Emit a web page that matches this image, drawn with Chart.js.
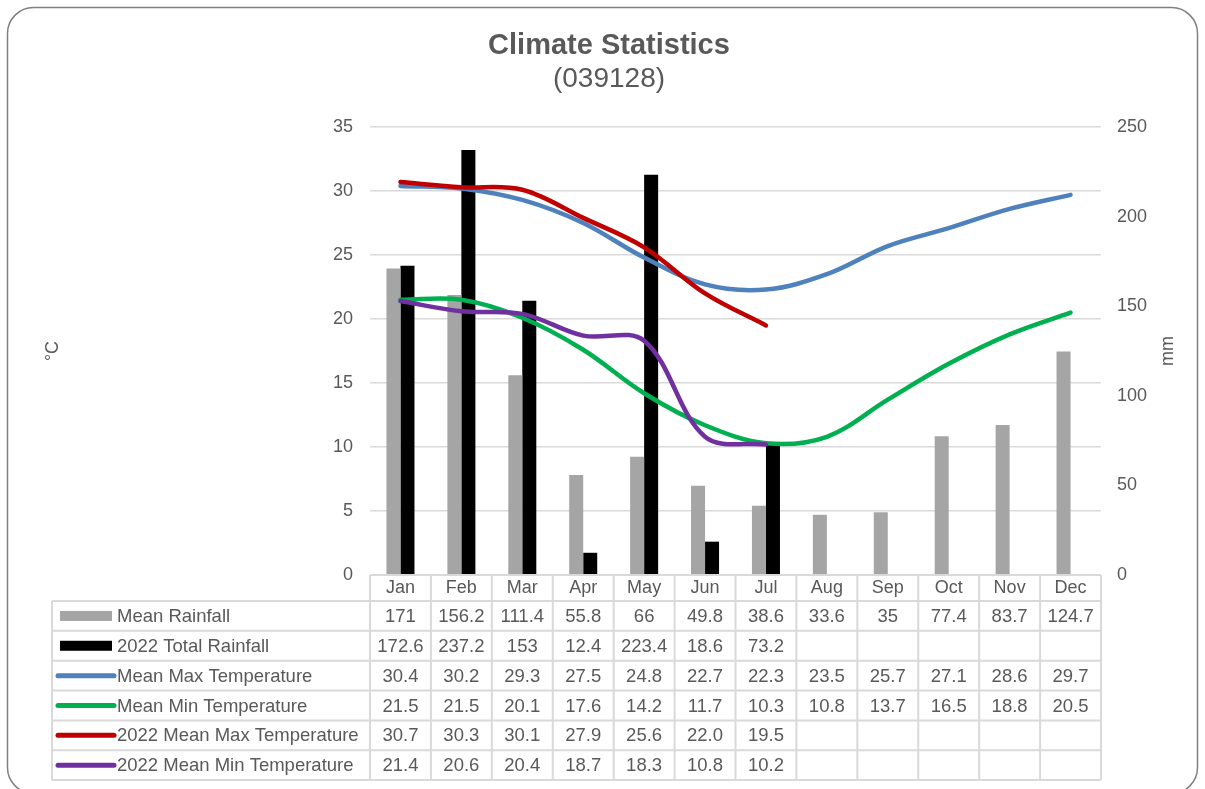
<!DOCTYPE html>
<html>
<head>
<meta charset="utf-8">
<title>Climate Statistics (039128)</title>
<script src="https://cdn.jsdelivr.net/npm/chart.js@4.4.1/dist/chart.umd.min.js"></script>
<style>
  html, body { margin: 0; padding: 0; background: #ffffff; }
  canvas { display: block; }
</style>
</head>
<body>
<canvas id="climate" width="1205" height="789"></canvas>
<script>
// Monthly climate statistics for station 039128
const months = ['Jan', 'Feb', 'Mar', 'Apr', 'May', 'Jun', 'Jul', 'Aug', 'Sep', 'Oct', 'Nov', 'Dec'];

const meanRainfall = [171, 156.2, 111.4, 55.8, 66, 49.8, 38.6, 33.6, 35, 77.4, 83.7, 124.7];
const totalRainfall2022 = [172.6, 237.2, 153, 12.4, 223.4, 18.6, 73.2, null, null, null, null, null];
const meanMaxTemp = [30.4, 30.2, 29.3, 27.5, 24.8, 22.7, 22.3, 23.5, 25.7, 27.1, 28.6, 29.7];
const meanMinTemp = [21.5, 21.5, 20.1, 17.6, 14.2, 11.7, 10.3, 10.8, 13.7, 16.5, 18.8, 20.5];
const meanMaxTemp2022 = [30.7, 30.3, 30.1, 27.9, 25.6, 22.0, 19.5, null, null, null, null, null];
const meanMinTemp2022 = [21.4, 20.6, 20.4, 18.7, 18.3, 10.8, 10.2, null, null, null, null, null];

// Axis ranges (°C on the left, mm on the right)
const tempAxis = { min: 0, max: 35, step: 5 };
const rainAxis = { min: 0, max: 250, step: 50 };

const TEXT = '#595959';
const GRID = '#d9d9d9';
const FONT = "'Liberation Sans', Arial, sans-serif";

Chart.defaults.font.family = FONT;
Chart.defaults.color = TEXT;

const asIs = v => String(v);
const oneDecimal = v => v.toFixed(1);

// Card background and rounded frame
const framePlugin = {
  id: 'frame',
  beforeDraw(chart) {
    const ctx = chart.ctx;
    ctx.save();
    ctx.fillStyle = '#ffffff';
    ctx.fillRect(0, 0, chart.width, chart.height);
    ctx.restore();
  },
  afterDraw(chart) {
    const ctx = chart.ctx;
    ctx.save();
    ctx.strokeStyle = '#808080';
    ctx.lineWidth = 1.5;
    ctx.beginPath();
    ctx.roundRect(7.5, 7.5, 1190, 786, 26);
    ctx.stroke();
    ctx.restore();
  }
};

// Rotated axis titles, both reading bottom-to-top
const axisTitlePlugin = {
  id: 'axisTitles',
  afterDraw(chart) {
    const ctx = chart.ctx;
    const a = chart.chartArea;
    const midY = (a.top + a.bottom) / 2;
    ctx.save();
    ctx.fillStyle = TEXT;
    ctx.font = '18px ' + FONT;
    ctx.textAlign = 'center';
    ctx.textBaseline = 'alphabetic';
    [['°C', 58], ['mm', 1173]].forEach(([txt, bx]) => {
      ctx.save();
      ctx.translate(bx, midY);
      ctx.rotate(-Math.PI / 2);
      ctx.fillText(txt, 0, 0);
      ctx.restore();
    });
    ctx.restore();
  }
};

// Data table under the plot: legend keys, series names and monthly values
const dataTablePlugin = {
  id: 'dataTable',
  afterDraw(chart) {
    const ctx = chart.ctx;
    const a = chart.chartArea;
    const xs = chart.scales.x;
    const n = months.length;
    const colW = (a.right - a.left) / n;
    const top = a.bottom;
    const headH = 26;
    const rowH = 29.85;
    const tableLeft = 52;
    const sets = chart.data.datasets;
    const bottom = top + headH + rowH * sets.length;

    ctx.save();
    ctx.strokeStyle = GRID;
    ctx.lineWidth = 2;
    ctx.beginPath();
    // header row top edge
    ctx.moveTo(a.left, top);
    ctx.lineTo(a.right, top);
    // row edges
    for (let r = 0; r <= sets.length; r++) {
      const y = top + headH + r * rowH;
      ctx.moveTo(tableLeft, y);
      ctx.lineTo(a.right, y);
    }
    // column edges
    for (let c = 0; c <= n; c++) {
      const x = a.left + c * colW;
      ctx.moveTo(x, top);
      ctx.lineTo(x, bottom);
    }
    ctx.moveTo(tableLeft, top + headH);
    ctx.lineTo(tableLeft, bottom);
    ctx.stroke();

    ctx.font = '18.5px ' + FONT;
    ctx.fillStyle = TEXT;
    ctx.textBaseline = 'middle';

    sets.forEach((ds, r) => {
      const cy = top + headH + r * rowH + rowH / 2;
      // legend key
      if (ds.type === 'bar') {
        ctx.fillStyle = ds.backgroundColor;
        ctx.fillRect(60, cy - 5, 52, 10);
      } else {
        ctx.strokeStyle = ds.borderColor;
        ctx.lineWidth = 5;
        ctx.lineCap = 'round';
        ctx.beginPath();
        ctx.moveTo(58, cy);
        ctx.lineTo(114, cy);
        ctx.stroke();
      }
      // series name
      ctx.fillStyle = TEXT;
      ctx.textAlign = 'left';
      ctx.fillText(ds.label, 117, cy + 1);
      // values
      ctx.textAlign = 'center';
      const fmt = ds.type === 'bar' ? asIs : oneDecimal;
      ds.data.forEach((v, i) => {
        if (v === null || v === undefined) return;
        ctx.fillText(fmt(v), xs.getPixelForValue(i), cy + 1);
      });
    });
    ctx.restore();
  }
};

new Chart(document.getElementById('climate'), {
  data: {
    labels: months,
    datasets: [
      {
        type: 'bar', label: 'Mean Rainfall', data: meanRainfall, yAxisID: 'y1',
        backgroundColor: '#a5a5a5', categoryPercentage: 0.46, barPercentage: 1, order: 5
      },
      {
        type: 'bar', label: '2022 Total Rainfall', data: totalRainfall2022, yAxisID: 'y1',
        backgroundColor: '#000000', categoryPercentage: 0.46, barPercentage: 1, order: 6
      },
      {
        type: 'line', label: 'Mean Max Temperature', data: meanMaxTemp, yAxisID: 'y',
        borderColor: '#4f81bd', backgroundColor: '#4f81bd', order: 4
      },
      {
        type: 'line', label: 'Mean Min Temperature', data: meanMinTemp, yAxisID: 'y',
        borderColor: '#00b050', backgroundColor: '#00b050', order: 3
      },
      {
        type: 'line', label: '2022 Mean Max Temperature', data: meanMaxTemp2022, yAxisID: 'y',
        borderColor: '#c00000', backgroundColor: '#c00000', order: 2
      },
      {
        type: 'line', label: '2022 Mean Min Temperature', data: meanMinTemp2022, yAxisID: 'y',
        borderColor: '#7030a0', backgroundColor: '#7030a0', order: 1
      }
    ]
  },
  options: {
    responsive: false,
    animation: false,
    events: [],
    layout: { padding: { left: 13, right: 0, top: 0, bottom: 0 } },
    elements: {
      line: { borderWidth: 4.5, tension: 0.35, fill: false, borderCapStyle: 'round', borderJoinStyle: 'round' },
      point: { radius: 0, hoverRadius: 0 }
    },
    plugins: {
      legend: { display: false },
      tooltip: { enabled: false },
      title: {
        display: true, text: 'Climate Statistics', color: TEXT,
        font: { size: 29, weight: 'bold', lineHeight: 1 },
        padding: { top: 31.5, bottom: 0 }
      },
      subtitle: {
        display: true, text: '(039128)', color: TEXT,
        font: { size: 28, weight: 'normal', lineHeight: 1 },
        padding: { top: 5, bottom: 33.5 }
      }
    },
    scales: {
      x: {
        type: 'category',
        offset: true,
        grid: { display: false, drawTicks: false },
        border: { display: false },
        ticks: { color: TEXT, font: { size: 18 }, padding: 2, maxRotation: 0, autoSkip: false },
        afterFit(scale) { scale.height = 214; }
      },
      y: {
        position: 'left',
        min: tempAxis.min, max: tempAxis.max,
        grid: { color: GRID, lineWidth: 1.5, drawTicks: false },
        border: { display: false },
        ticks: { stepSize: tempAxis.step, color: TEXT, font: { size: 18 }, padding: 17 },
        afterFit(scale) { scale.width = 357; }
      },
      y1: {
        position: 'right',
        min: rainAxis.min, max: rainAxis.max,
        grid: { display: false, drawTicks: false },
        border: { display: false },
        ticks: { stepSize: rainAxis.step, color: TEXT, font: { size: 18 }, padding: 16 },
        afterFit(scale) { scale.width = 104; }
      }
    }
  },
  plugins: [framePlugin, axisTitlePlugin, dataTablePlugin]
});
</script>
</body>
</html>
